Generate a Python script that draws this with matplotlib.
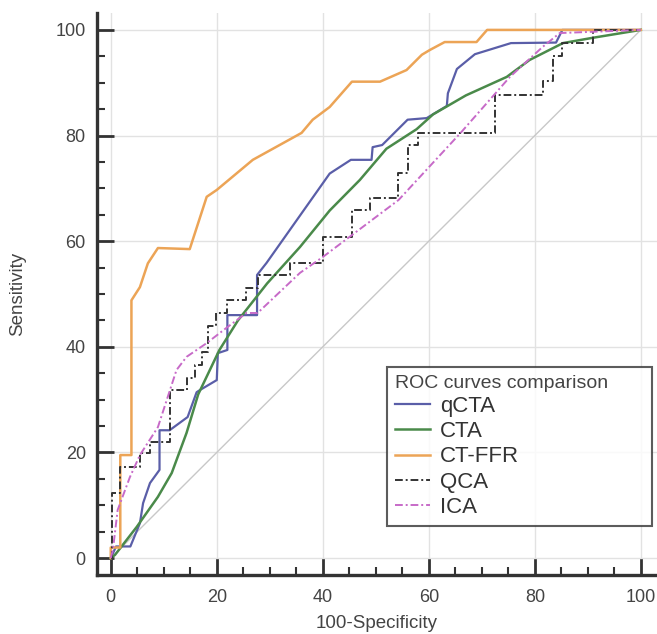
import matplotlib
matplotlib.use("Agg")
import matplotlib.pyplot as plt
import numpy as np

plt.rcParams['font.family'] = ['Liberation Sans', 'DejaVu Sans']

# ROC curves (100-Specificity, Sensitivity)
qcta_x = [0, 1, 3.7, 5.5, 6.1, 7.4, 9.2, 9.2, 11.1, 14.5, 16.2, 16.8, 20, 20.2, 22, 22, 27.6, 27.6, 29.4,
          41.3, 45.3, 49.2, 49.4, 51.2, 56, 59.6, 63.4, 63.6, 65.3, 68.7, 75.5, 84, 85.2, 100]
qcta_y = [0, 2.2, 2.2, 6.6, 10.4, 14.2, 16.7, 24.2, 24.2, 26.7, 31.4, 31.8, 33.7, 38.8, 39.4, 46, 46, 53.6, 55.9,
          72.8, 75.4, 75.4, 77.8, 78.2, 83, 83.3, 85.6, 88, 92.6, 95.4, 97.5, 97.6, 100, 100]

cta_x = [0, 0.8, 4.9, 8.9, 11.5, 14.3, 16.5, 20.5, 24, 29.5, 35.7, 41.3, 47, 52, 57.7, 60.8, 67, 74.7, 79,
         85.3, 90.9, 100]
cta_y = [0, 0.6, 5.9, 11.6, 16.1, 23.7, 31, 39.4, 45, 52, 58.9, 65.8, 71.6, 77.5, 81.2, 84, 87.6, 91.1, 94.3,
         97.5, 98.5, 100]

ctffr_x = [0, 0, 1.8, 1.8, 3.9, 3.9, 5.5, 7, 8.9, 14.9, 18.1, 20, 26.8, 36, 38.1, 41.3, 45.5, 50.8, 55.8,
           58.7, 60.2, 63, 69, 71, 100]
ctffr_y = [0, 2, 2, 19.5, 19.5, 48.8, 51.3, 55.8, 58.7, 58.5, 68.4, 69.7, 75.4, 80.5, 83, 85.4, 90.2, 90.2, 92.4,
           95.3, 96.2, 97.7, 97.7, 100, 100]

qca_x = [0, 0.3, 0.3, 1.7, 1.7, 5.5, 5.5, 7.4, 7.4, 11.1, 11.1, 14.3, 14.3, 15.8, 15.8, 17.3, 17.3, 18.3, 18.3,
         19.8, 19.8, 22, 22, 25.5, 25.5, 27.7, 27.7, 33.8, 33.8, 40, 40, 45.5, 45.5, 48.9, 48.9, 54.2, 54.2,
         56, 56, 58, 58, 72.5, 72.5, 81.5, 81.5, 83.4, 83.4, 85.1, 85.1, 91, 91, 100]
qca_y = [0, 0, 12.3, 12.3, 17.2, 17.2, 19.8, 19.8, 22, 22, 31.8, 31.8, 34, 34, 36.6, 36.6, 39, 39, 44,
         44, 46.4, 46.4, 48.8, 48.8, 51.2, 51.2, 53.6, 53.6, 55.9, 55.9, 60.8, 60.8, 65.9, 65.9, 68.2, 68.2, 73,
         73, 78.2, 78.2, 80.5, 80.5, 87.7, 87.7, 90.3, 90.3, 95, 95, 97.5, 97.5, 100, 100]

ica_x = [0, 0.4, 1.3, 3.6, 5.5, 8.9, 12.4, 14.3, 18.1, 22.1, 25.6, 27.7, 35.7, 40, 54.3, 66, 75.3, 81.5, 84.7, 100]
ica_y = [0, 1.5, 9.1, 15.3, 19.5, 24.8, 35.6, 38.1, 40.7, 43.8, 46.4, 46.4, 54, 57, 67.8, 80.5, 91.1, 96.8, 99.4, 100]

fig = plt.figure(figsize=(6.57, 6.34), dpi=100)
ax = fig.add_axes([0.1476, 0.0931, 0.852, 0.8864])

ax.grid(True, color="#e2e2e2", linewidth=1.0)
ax.set_axisbelow(True)
ax.plot([0, 100], [0, 100], color="#c8c8c8", linewidth=1.0)

dashdot = (0, (4, 1.5, 1, 1.5))
ax.plot(qcta_x, qcta_y, color="#5a5ea8", linewidth=1.6, label="qCTA")
ax.plot(cta_x, cta_y, color="#4a8a4a", linewidth=1.8, label="CTA")
ax.plot(ctffr_x, ctffr_y, color="#eca456", linewidth=1.8, label="CT-FFR")
ax.plot(qca_x, qca_y, color="#333333", linewidth=1.4, linestyle=dashdot, label="QCA")
ax.plot(ica_x, ica_y, color="#c76ac8", linewidth=1.4, linestyle=dashdot, label="ICA")

ax.set_xlim(-2.6, 103)
ax.set_ylim(-3.2, 103.2)
ax.set_xticks(np.arange(0, 101, 20))
ax.set_yticks(np.arange(0, 101, 20))
ax.set_xticks(np.arange(0, 101, 5), minor=True)
ax.set_yticks(np.arange(0, 101, 5), minor=True)
ax.tick_params(which="major", direction="in", length=12, width=2, color="#333333",
               labelsize=13, labelcolor="#444444", pad=8)
ax.tick_params(axis="x", which="major", pad=10)
ax.tick_params(which="minor", direction="in", length=6, width=1.5, color="#333333")

for s in ["top", "right"]:
    ax.spines[s].set_visible(False)
for s in ["left", "bottom"]:
    ax.spines[s].set_linewidth(2.4)
    ax.spines[s].set_color("#333333")

ax.set_xlabel("100-Specificity", fontsize=13.5, color="#444444")
ax.set_ylabel("Sensitivity", fontsize=13.5, color="#444444")
ax.xaxis.set_label_coords(0.5, -0.071)
ax.yaxis.set_label_coords(-0.127, 0.5)

leg = ax.legend(title="ROC curves comparison", loc="upper left",
                bbox_to_anchor=(387 / 657, 1 - 527 / 634, (652 - 387) / 657, 160 / 634),
                bbox_transform=fig.transFigure, mode="expand", borderaxespad=0,
                fontsize=16, title_fontsize=14, frameon=True, fancybox=False,
                handlelength=1.6, handletextpad=0.45, labelspacing=0.19, borderpad=0.35,
                alignment="left")
leg.get_frame().set_edgecolor("#333333")
leg.get_frame().set_linewidth(1.5)
leg.get_title().set_color("#444444")
for t in leg.get_texts():
    t.set_color("#333333")

fig.savefig("out.png", dpi=100)
